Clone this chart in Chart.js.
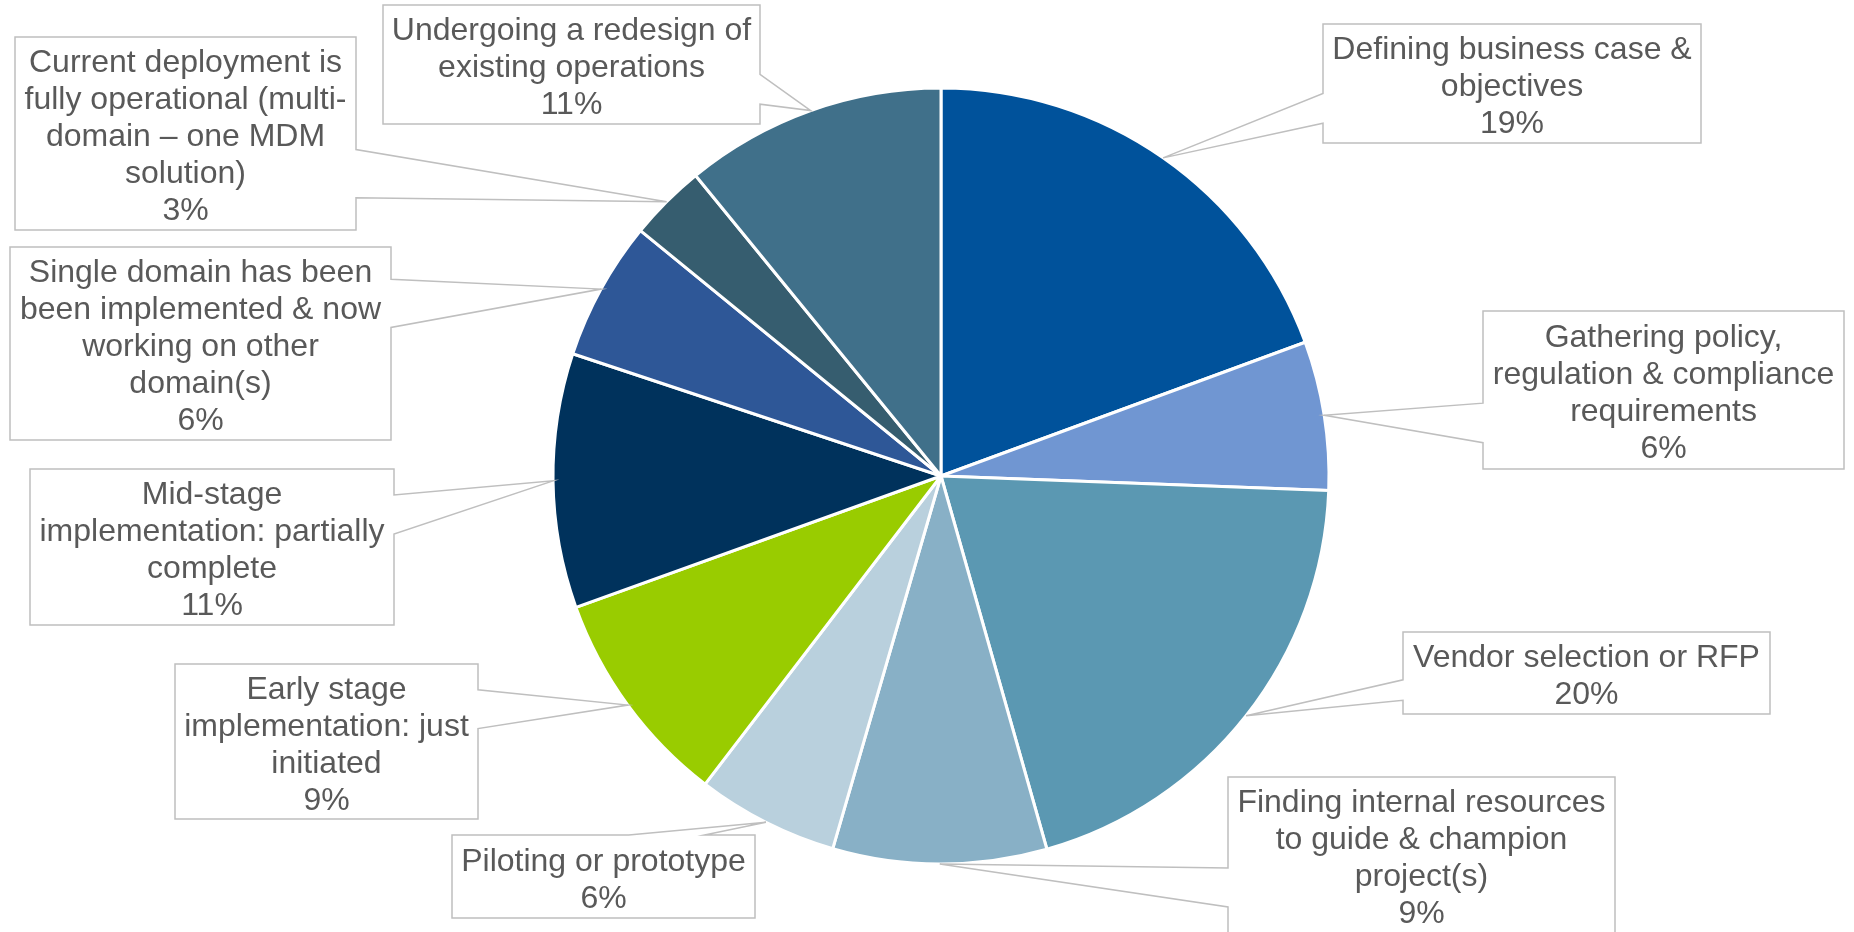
<!DOCTYPE html>
<html>
<head>
<meta charset="utf-8">
<script src="https://cdn.jsdelivr.net/npm/chart.js@4/dist/chart.umd.min.js"></script>
<style>
  html, body { margin: 0; padding: 0; background: #fff; }
  #wrap { width: 1854px; height: 932px; position: relative; }
</style>
</head>
<body>
<div id="wrap"><canvas id="pie"></canvas></div>
<script>
// categories (already split into the lines shown in each callout)
const categories = [
  ['Defining business case &', 'objectives'],
  ['Gathering policy,', 'regulation & compliance', 'requirements'],
  ['Vendor selection or RFP'],
  ['Finding internal resources', 'to guide & champion', 'project(s)'],
  ['Piloting or prototype'],
  ['Early stage', 'implementation: just', 'initiated'],
  ['Mid-stage', 'implementation: partially', 'complete'],
  ['Single domain has been', 'been implemented & now', 'working on other', 'domain(s)'],
  ['Current deployment is', 'fully operational (multi-', 'domain \u2013 one MDM', 'solution)'],
  ['Undergoing a redesign of', 'existing operations']
];

// share of respondents, %
const shares = [19.4, 6.2, 20.0, 8.9, 5.9, 9.1, 10.6, 5.8, 3.2, 10.9];

const sliceColors = [
  '#00529B', '#7096D2', '#5B98B2', '#88B0C6', '#B9D0DD',
  '#99CC00', '#00325C', '#2E5797', '#365D6F', '#40708A'
];

// callout boxes: [left, top, width, height] in canvas px
const calloutBoxes = [
  [1323, 24, 378, 119],
  [1483, 311, 361, 158],
  [1403, 632, 367, 82],
  [1228, 777, 387, 156],
  [452, 835, 303, 83],
  [175, 664, 303, 155],
  [30, 469, 364, 156],
  [10, 247, 381, 193],
  [15, 37, 341, 193],
  [383, 5, 377, 119]
];

const LABEL_FONT = '32px "Liberation Sans", Arial, sans-serif';
const LINE_H = 37;

// Excel-like wedge rectangle callouts pointing at the middle of each slice
const calloutPlugin = {
  id: 'callouts',
  afterDatasetsDraw(chart) {
    const ctx = chart.ctx;
    const meta = chart.getDatasetMeta(0);
    const values = chart.data.datasets[0].data;
    meta.data.forEach((arc, i) => {
      const p = arc.getProps(['x', 'y', 'startAngle', 'endAngle', 'outerRadius'], true);
      const mid = (p.startAngle + p.endAngle) / 2;
      const tx = p.x + Math.cos(mid) * p.outerRadius;
      const ty = p.y + Math.sin(mid) * p.outerRadius;
      const [bx, by, bw, bh] = calloutBoxes[i];
      const cx = bx + bw / 2, cy = by + bh / 2;
      const dxn = (tx - cx) / bw, dyn = (ty - cy) / bh;
      let side;
      if (Math.abs(dyn) > Math.abs(dxn)) side = dyn < 0 ? 'top' : 'bottom';
      else side = dxn < 0 ? 'left' : 'right';
      const x1 = bx + bw * (dxn > 0 ? 7 : 2) / 12, x2 = bx + bw * (dxn > 0 ? 10 : 5) / 12;
      const y1 = by + bh * (dyn > 0 ? 7 : 2) / 12, y2 = by + bh * (dyn > 0 ? 10 : 5) / 12;

      ctx.save();
      ctx.beginPath();
      ctx.moveTo(bx, by);
      if (side === 'top') { ctx.lineTo(x1, by); ctx.lineTo(tx, ty); ctx.lineTo(x2, by); }
      ctx.lineTo(bx + bw, by);
      if (side === 'right') { ctx.lineTo(bx + bw, y1); ctx.lineTo(tx, ty); ctx.lineTo(bx + bw, y2); }
      ctx.lineTo(bx + bw, by + bh);
      if (side === 'bottom') { ctx.lineTo(x2, by + bh); ctx.lineTo(tx, ty); ctx.lineTo(x1, by + bh); }
      ctx.lineTo(bx, by + bh);
      if (side === 'left') { ctx.lineTo(bx, y2); ctx.lineTo(tx, ty); ctx.lineTo(bx, y1); }
      ctx.closePath();
      ctx.fillStyle = '#FFFFFF';
      ctx.fill();
      ctx.lineWidth = 1.5;
      ctx.strokeStyle = '#BFBFBF';
      ctx.stroke();

      const lines = chart.data.labels[i].concat([Math.round(values[i]) + '%']);
      ctx.fillStyle = '#595959';
      ctx.font = LABEL_FONT;
      ctx.textAlign = 'center';
      ctx.textBaseline = 'middle';
      const startY = cy - (lines.length - 1) * LINE_H / 2;
      lines.forEach((t, k) => ctx.fillText(t, cx, startY + k * LINE_H + 4));
      ctx.restore();
    });
  }
};

new Chart(document.getElementById('pie'), {
  type: 'pie',
  data: {
    labels: categories,
    datasets: [{
      data: shares,
      backgroundColor: sliceColors,
      borderColor: '#FFFFFF',
      borderWidth: 3
    }]
  },
  options: {
    responsive: true,
    maintainAspectRatio: false,
    devicePixelRatio: 1,
    animation: false,
    radius: 388,
    layout: { padding: { left: 28, right: 0, top: 20, bottom: 0 } },
    plugins: {
      legend: { display: false },
      tooltip: { enabled: false }
    }
  },
  plugins: [calloutPlugin]
});
</script>
</body>
</html>
